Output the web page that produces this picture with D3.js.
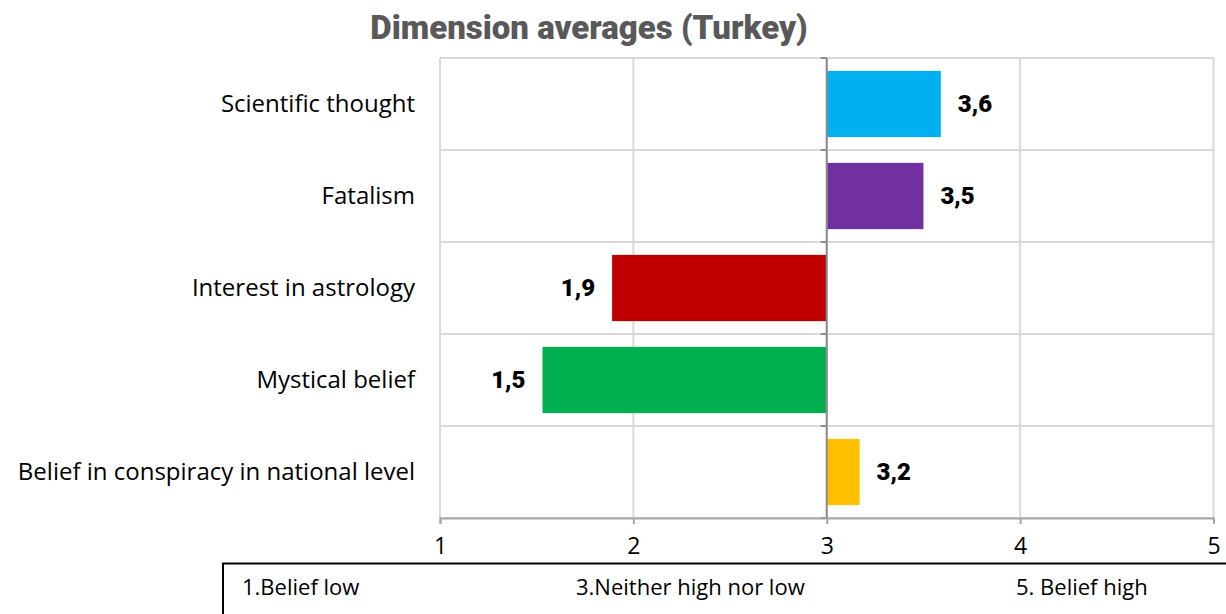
<!DOCTYPE html>
<html lang="en">
<head>
<meta charset="utf-8">
<title>Dimension averages (Turkey)</title>
<script src="https://cdn.jsdelivr.net/npm/d3@7"></script>
<style>
  body { margin: 0; background: #fff; }
  text { font-family: "Open Sans", "Liberation Sans", Arial, sans-serif; }
</style>
</head>
<body>
<script>
// data
var categories = ["Scientific thought", "Fatalism", "Interest in astrology", "Mystical belief", "Belief in conspiracy in national level"];
var values = [3.59, 3.5, 1.89, 1.53, 3.17];
var colors = ["#00B0F0", "#7030A0", "#C00000", "#00B050", "#FFC000"];
var xTicks = [1, 2, 3, 4, 5];
var legendLabels = ["1.Belief low", "3.Neither high nor low", "5. Belief high"];

var w = 1226, h = 614;
var plotL = 440, plotR = 1213.5, plotT = 58, plotB = 518;

var svg = d3.select("body").append("svg").attr("width", w).attr("height", h);

var x = d3.scaleLinear().domain([1, 5]).range([plotL, plotR]);
var y = d3.scaleBand().domain(categories).range([plotT, plotB]).paddingInner(0.28).paddingOuter(0.14);

// title
svg.append("text").attr("x", 589).attr("y", 39).attr("text-anchor", "middle")
  .style("font-family", "Roboto, 'Noto Sans', sans-serif").style("font-weight", 900)
  .style("font-size", "33px").attr("fill", "#595959").text("Dimension averages (Turkey)");

// vertical grid
svg.append("g").selectAll("line").data(xTicks).join("line")
  .attr("x1", d => x(d)).attr("x2", d => x(d)).attr("y1", plotT).attr("y2", plotB)
  .attr("stroke", "#d9d9d9").attr("stroke-width", 2);

// horizontal grid (row boundaries)
var rowEdges = categories.map(c => y(c) - y.step() * y.paddingInner() / 2);
rowEdges.push(plotB);
svg.append("g").selectAll("line").data(rowEdges).join("line")
  .attr("x1", plotL).attr("x2", plotR).attr("y1", d => d).attr("y2", d => d)
  .attr("stroke", "#d9d9d9").attr("stroke-width", 2);

// bars
svg.append("g").selectAll("rect").data(values).join("rect")
  .attr("x", d => Math.min(x(d), x(3)))
  .attr("width", d => Math.abs(x(d) - x(3)))
  .attr("y", (d, i) => y(categories[i]))
  .attr("height", y.bandwidth())
  .attr("fill", (d, i) => colors[i]);

// category axis at 3
svg.append("line").attr("x1", x(3)).attr("x2", x(3)).attr("y1", plotT).attr("y2", plotB)
  .attr("stroke", "#8c8c8c").attr("stroke-width", 2);
svg.append("g").selectAll("line").data(rowEdges).join("line")
  .attr("x1", x(3) - 6).attr("x2", x(3)).attr("y1", d => d).attr("y2", d => d)
  .attr("stroke", "#8c8c8c").attr("stroke-width", 2);

// x axis
var xAxis = d3.axisBottom(x).tickValues(xTicks).tickSize(6).tickPadding(14).tickFormat(d3.format("d"));
var gx = svg.append("g").attr("transform", "translate(0," + plotB + ")").call(xAxis);
gx.select(".domain").attr("stroke", "#a6a6a6").attr("stroke-width", 2);
gx.selectAll(".tick line").attr("stroke", "#a6a6a6").attr("stroke-width", 2);
gx.selectAll(".tick text").style("font-size", "23px").attr("fill", "#000")
  .style("font-family", "'Open Sans', sans-serif");

// category labels
svg.append("g").selectAll("text").data(categories).join("text")
  .attr("x", 415).attr("y", d => y(d) + y.bandwidth() / 2).attr("dy", "0.35em")
  .attr("text-anchor", "end").style("font-size", "24px").attr("fill", "#000").text(d => d);

// value labels
var fmt = d => d3.format(".1f")(d).replace(".", ",");
svg.append("g").selectAll("text").data(values).join("text")
  .attr("x", d => d >= 3 ? x(d) + 17 : x(d) - 17)
  .attr("y", (d, i) => y(categories[i]) + y.bandwidth() / 2).attr("dy", "0.35em")
  .attr("text-anchor", d => d >= 3 ? "start" : "end")
  .style("font-family", "Roboto, 'Noto Sans', sans-serif").style("font-weight", 900)
  .style("font-size", "24px").attr("fill", "#000").text(fmt);

// legend box
svg.append("path").attr("d", "M223,614 V563.5 H1226")
  .attr("fill", "none").attr("stroke", "#000").attr("stroke-width", 2);
var legendX = [242, 576, 1016];
svg.append("g").selectAll("text").data(legendLabels).join("text")
  .attr("x", (d, i) => legendX[i]).attr("y", 595)
  .style("font-size", "22px").attr("fill", "#000").text(d => d);
</script>
</body>
</html>
